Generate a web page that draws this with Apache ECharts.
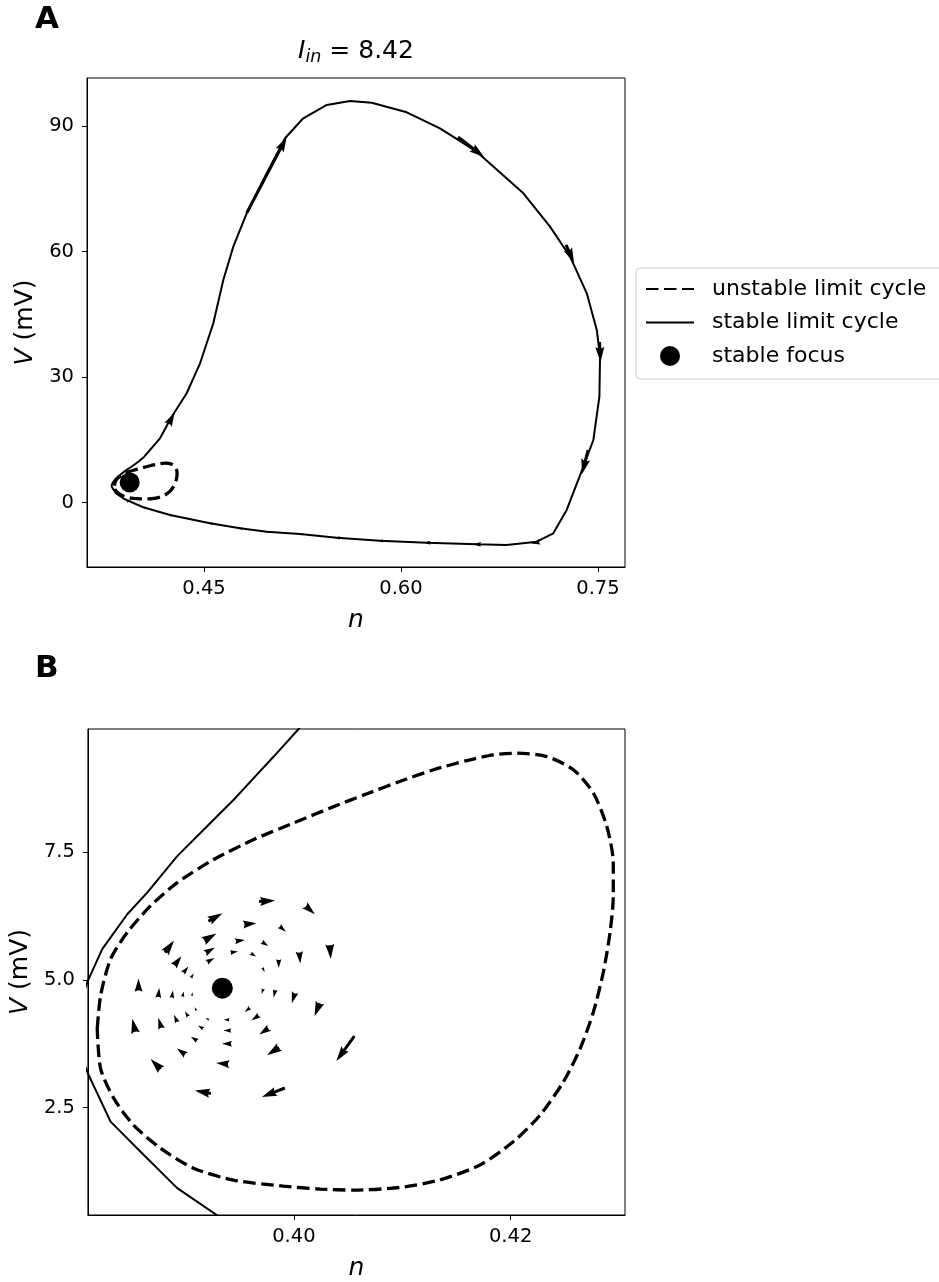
<!DOCTYPE html>
<html>
<head>
<meta charset="utf-8">
<title>Phase plane, I_in = 8.42</title>
<script src="https://cdn.jsdelivr.net/npm/echarts@6.0.0/dist/echarts.min.js"></script>
<style>
  html, body { margin: 0; padding: 0; background: #fff; }
  #chart { width: 939px; height: 1282px; }
</style>
</head>
<body>
<div id="chart"></div>
<script>
// unstable limit cycle (dashed)
const unstableN = [0.38186, 0.38217, 0.38309, 0.38463, 0.38677, 0.38924, 0.39261, 0.39630, 0.39998, 0.40367,
  0.40675, 0.40982, 0.41288, 0.41596, 0.41841, 0.42057, 0.42334, 0.42579, 0.42763, 0.42887,
  0.42947, 0.42947, 0.42917, 0.42855, 0.42763, 0.42641, 0.42487, 0.42272, 0.42026, 0.41719,
  0.41350, 0.40982, 0.40548, 0.40244, 0.39903, 0.39442, 0.39074, 0.38770, 0.38521, 0.38339, 0.38217];
const unstableV = [4.045, 4.694, 5.409, 5.929, 6.448, 6.903, 7.357, 7.747, 8.072, 8.390,
  8.643, 8.887, 9.111, 9.292, 9.403, 9.436, 9.370, 9.111, 8.657, 8.006,
  7.293, 6.642, 5.929, 5.150, 4.371, 3.656, 3.008, 2.356, 1.838, 1.382,
  1.090, 0.942, 0.889, 0.909, 0.967, 1.084, 1.318, 1.708, 2.161, 2.682, 3.266];

// stable limit cycle (solid), starting at the left tip
const stableN = [0.3794, 0.38100, 0.38232, 0.38463, 0.38647, 0.38924, 0.39200, 0.39445, 0.39629, 0.39814,
  0.40044, 0.4045, 0.4165, 0.4254, 0.4368, 0.4470, 0.4571, 0.4647, 0.4723, 0.4825,
  0.4978, 0.5117, 0.5256, 0.5435, 0.5612, 0.5777, 0.6044, 0.6297, 0.6577, 0.6932,
  0.7135, 0.7288, 0.7415, 0.7491, 0.7516, 0.7511, 0.7465, 0.7389, 0.7262, 0.7160,
  0.7034, 0.6805, 0.6577, 0.6196, 0.5840, 0.5511, 0.5231, 0.4978, 0.4774, 0.4546,
  0.4241, 0.4038, 0.39292, 0.38924, 0.38616, 0.38309, 0.38100];
const stableV = [4.05, 4.986, 5.604, 6.286, 6.709, 7.422, 8.006, 8.526, 8.949, 9.370,
  9.909, 10.99, 15.38, 20.54, 26.13, 33.29, 42.85, 53.19, 61.14, 69.12,
  78.67, 87.03, 91.81, 94.99, 95.94, 95.53, 93.24, 89.42, 83.83, 73.90,
  65.92, 58.75, 50.01, 41.25, 34.87, 25.32, 14.97, 8.60, -1.74, -7.31,
  -9.31, -10.10, -9.94, -9.55, -9.08, -8.36, -7.48, -6.93, -6.11, -4.92,
  -2.94, -1.10, 0.396, 0.928, 1.577, 2.228, 3.169];

// stable focus
const focusN = [0.3934];
const focusV = [4.84];

// flow arrows along the stable cycle (panel A): position and vector
const cycleArrowN = [0.42540, 0.49775, 0.65335, 0.72875, 0.75160, 0.74018, 0.70210, 0.65769, 0.61961,
  0.58404, 0.55107, 0.52312, 0.49775, 0.47742, 0.45457, 0.42410, 0.40377, 0.39113];
const cycleArrowV = [20.23, 78.27, 84.95, 59.40, 35.99, 9.72, -9.55, -9.94, -9.55,
  -9.08, -8.36, -7.48, -6.93, -6.11, -4.92, -2.94, -1.10, 0.48];
const cycleArrowDN = [0.00457, 0.03046, 0.01980, 0.00609, 0.00076, -0.00457, -0.00609, -0.00533, -0.00457,
  -0.00381, -0.00381, -0.00305, -0.00305, -0.00305, -0.00305, -0.00305, -0.00228, -0.00228];
const cycleArrowDV = [2.63, 18.15, -4.78, -4.30, -4.78, -5.73, -0.358, 0.048, 0.048,
  0.072, 0.096, 0.096, 0.119, 0.167, 0.215, 0.287, 0.310, 0.430];

// vector field around the focus (panel B)
const quiverN = [0.39753, 0.40152, 0.39276, 0.39599, 0.39899, 0.40336, 0.39230, 0.39507, 0.39737, 0.39230,
  0.39452, 0.39629, 0.39235, 0.39860, 0.40055, 0.38853, 0.38931, 0.39005, 0.39065, 0.39722,
  0.39710, 0.39820, 0.39995, 0.40214, 0.40475, 0.38567, 0.38754, 0.38880, 0.38979, 0.39062,
  0.38523, 0.38763, 0.38908, 0.39009, 0.39092, 0.38724, 0.38959, 0.39077, 0.39138, 0.39200,
  0.39161, 0.39338, 0.39378, 0.39384, 0.39378, 0.39811, 0.39808, 0.39722, 0.39641, 0.39569];
const quiverV = [6.545, 6.364, 6.227, 6.097, 5.994, 5.545, 5.838, 5.770, 5.701, 5.584,
  5.545, 5.487, 5.390, 5.312, 5.429, 5.653, 5.376, 5.205, 5.088, 5.195,
  4.772, 4.727, 4.640, 4.416, 3.656, 4.912, 4.756, 4.727, 4.727, 4.727,
  4.114, 4.162, 4.250, 4.338, 4.435, 3.354, 3.603, 3.851, 4.079, 4.240,
  2.808, 3.364, 3.753, 4.012, 4.221, 2.799, 3.603, 3.993, 4.254, 4.410];
const quiverDN = [0.001475, 0.000829, 0.00129, 0.001106, 0.000553, 0.000092, 0.001106, 0.000829, 0.000553, 0.000829,
  0.000645, 0.000461, 0.000645, 0, 0.000092, 0.000829, 0.000645, 0.000461, 0.000276, 0.000184,
  -0.000138, -0.000138, -0.000276, -0.000461, -0.001659, 0, 0.000092, 0.000092, 0.000092, 0.000046,
  -0.000276, -0.000276, -0.000276, -0.000276, -0.000184, -0.000922, -0.000737, -0.000553, -0.000461, -0.000276,
  -0.001475, -0.001106, -0.000829, -0.000645, -0.000461, -0.00212, -0.001106, -0.000829, -0.000645, -0.000461];
const quiverDV = [0.0195, -0.156, 0.156, 0.0195, -0.0974, -0.2727, 0.1364, 0.0195, -0.0779, 0.0974,
  0.0195, -0.0584, 0.0779, -0.1559, -0.2143, 0.2338, 0.1753, 0.1169, 0.0779, -0.0779,
  -0.0974, -0.1364, -0.1948, -0.2533, -0.4870, 0.2338, 0.1753, 0.1364, 0.0974, 0.0682,
  0.2533, 0.1948, 0.1364, 0.0974, 0.0584, 0.1948, 0.1169, 0.0779, 0.0584, 0.0390,
  0.0584, 0.0195, 0, 0, 0, -0.1753, -0.1559, -0.1169, -0.0974, -0.0779];

// tick labels
const ticksAx = [0.45, 0.60, 0.75];
const ticksAy = [0, 30, 60, 90];
const ticksBx = [0.40, 0.42];
const ticksBy = [2.5, 5.0, 7.5];

const FONT = 'DejaVu Sans';
const SHAFT = 3.0;

const pairs = (xs, ys) => xs.map((x, i) => [x, ys[i]]);
const loop = (xs, ys) => { const p = pairs(xs, ys); p.push(p[0]); return p; };
const vecs = (xs, ys, us, vs) => xs.map((x, i) => [x, ys[i], us[i], vs[i]]);

// quiver style arrow, centred on its point
function renderArrow(params, api) {
  const a = api.coord([api.value(0), api.value(1)]);
  const b = api.coord([api.value(0) + api.value(2), api.value(1) + api.value(3)]);
  const dx = b[0] - a[0], dy = b[1] - a[1];
  const L = Math.hypot(dx, dy);
  if (L < 0.5) return null;
  const ux = dx / L, uy = dy / L, px = -uy, py = ux;
  const k = Math.min(1, L / (4.5 * SHAFT));
  const w = SHAFT * k / 2, hw = 1.5 * SHAFT * k, hl = 5 * SHAFT * k, ha = 4.5 * SHAFT * k;
  const tx = a[0] - dx / 2, ty = a[1] - dy / 2;
  const local = [[0, -w], [L - ha, -w], [L - hl, -hw], [L, 0], [L - hl, hw], [L - ha, w], [0, w]];
  const pts = local.map(([s, t]) => [tx + s * ux + t * px, ty + s * uy + t * py]);
  return { type: 'polygon', shape: { points: pts }, style: { fill: '#000' } };
}

function axis(gridIndex, min, max, ticks, digits, name, isY) {
  return {
    type: 'value', gridIndex: gridIndex, min: min, max: max,
    axisLine: { show: true, onZero: false, lineStyle: { color: '#000', width: 1 } },
    axisTick: { show: true, length: 5, customValues: ticks, lineStyle: { color: '#000', width: 1 } },
    axisLabel: {
      customValues: ticks, color: '#000', fontFamily: FONT, fontSize: 19.5,
      margin: isY ? 13 : 12,
      formatter: v => v.toFixed(digits)
    },
    splitLine: { show: false },
    name: name, nameLocation: 'middle', nameGap: isY ? 47 : 41,
    nameTextStyle: {
      color: '#000', fontFamily: FONT, fontSize: 25, fontStyle: isY ? 'normal' : 'italic',
      rich: { i: { fontFamily: FONT, fontSize: 25, fontStyle: 'italic', color: '#000' } }
    }
  };
}

const unstableStyle = { color: '#000', width: 3.3, type: [12.5, 5.5] };
const stableStyle = { color: '#000', width: 2 };
const dotStyle = { color: '#000', opacity: 1 };

const chart = echarts.init(document.getElementById('chart'));
chart.setOption({
  animation: false,
  backgroundColor: '#fff',
  graphic: [
    { type: 'text', x: 35, y: 19.5, style: { text: 'A', font: 'bold 31px "DejaVu Sans"', fill: '#000',
      align: 'left', textAlign: 'left', verticalAlign: 'middle', textVerticalAlign: 'middle' } },
    { type: 'text', x: 35, y: 669, style: { text: 'B', font: 'bold 31px "DejaVu Sans"', fill: '#000',
      align: 'left', textAlign: 'left', verticalAlign: 'middle', textVerticalAlign: 'middle' } },
    { type: 'text', x: 356, y: 51, style: {
      text: '{i|I}{s|in}{r| = 8.42}', fill: '#000',
      align: 'center', textAlign: 'center', verticalAlign: 'middle', textVerticalAlign: 'middle',
      rich: {
        i: { fontFamily: FONT, fontSize: 25, fontStyle: 'italic', lineHeight: 30 },
        s: { fontFamily: FONT, fontSize: 17.5, fontStyle: 'italic', lineHeight: 18, verticalAlign: 'bottom' },
        r: { fontFamily: FONT, fontSize: 25, lineHeight: 30 }
      }
    } }
  ],
  legend: {
    data: [
      { name: 'unstable limit cycle', itemStyle: { opacity: 0 } },
      { name: 'stable limit cycle', itemStyle: { opacity: 0 } },
      { name: 'stable focus' }
    ],
    orient: 'vertical', left: 636, top: 268,
    itemWidth: 48, itemHeight: 20, itemGap: 11.5,
    padding: [10, 30, 12, 9],
    backgroundColor: '#fff', borderColor: '#cccccc', borderWidth: 1, borderRadius: 4,
    selectedMode: false,
    textStyle: { fontFamily: FONT, fontSize: 22, color: '#000', lineHeight: 22, padding: [0, 0, 0, 13] }
  },
  grid: [
    { left: 87, top: 78, width: 538, height: 489, show: true, borderColor: '#000', borderWidth: 1, backgroundColor: 'transparent' },
    { left: 87, top: 729, width: 538, height: 488, show: true, borderColor: '#000', borderWidth: 1, backgroundColor: 'transparent' }
  ],
  xAxis: [
    axis(0, 0.3609, 0.7706, ticksAx, 2, 'n', false),
    axis(1, 0.3810, 0.43055, ticksBx, 2, 'n', false)
  ],
  yAxis: [
    axis(0, -15.36, 101.43, ticksAy, 0, '{i|V} (mV)', true),
    axis(1, 0.402, 9.909, ticksBy, 1, '{i|V} (mV)', true)
  ],
  series: [
    { name: 'unstable limit cycle', type: 'line', xAxisIndex: 0, yAxisIndex: 0, data: loop(unstableN, unstableV),
      symbol: 'none', smooth: 0.25, lineStyle: unstableStyle, itemStyle: dotStyle, z: 3 },
    { name: 'stable limit cycle', type: 'line', xAxisIndex: 0, yAxisIndex: 0, data: loop(stableN, stableV),
      symbol: 'none', lineStyle: stableStyle, itemStyle: dotStyle, z: 2 },
    { type: 'custom', xAxisIndex: 0, yAxisIndex: 0, renderItem: renderArrow,
      data: vecs(cycleArrowN, cycleArrowV, cycleArrowDN, cycleArrowDV), encode: { x: 0, y: 1 }, z: 4 },
    { name: 'stable focus', type: 'scatter', xAxisIndex: 0, yAxisIndex: 0, data: pairs(focusN, focusV),
      symbol: 'circle', symbolSize: 20, itemStyle: dotStyle, z: 5 },

    { name: 'unstable limit cycle', type: 'line', xAxisIndex: 1, yAxisIndex: 1, data: loop(unstableN, unstableV),
      symbol: 'none', smooth: 0.25, lineStyle: unstableStyle, itemStyle: dotStyle, z: 3 },
    { name: 'stable limit cycle', type: 'line', xAxisIndex: 1, yAxisIndex: 1, data: loop(stableN, stableV),
      symbol: 'none', lineStyle: stableStyle, itemStyle: dotStyle, z: 2 },
    { type: 'custom', xAxisIndex: 1, yAxisIndex: 1, renderItem: renderArrow,
      data: vecs(quiverN, quiverV, quiverDN, quiverDV), encode: { x: 0, y: 1 }, z: 4 },
    { name: 'stable focus', type: 'scatter', xAxisIndex: 1, yAxisIndex: 1, data: pairs(focusN, focusV),
      symbol: 'circle', symbolSize: 21, itemStyle: dotStyle, z: 5 }
  ]
});
</script>
</body>
</html>
